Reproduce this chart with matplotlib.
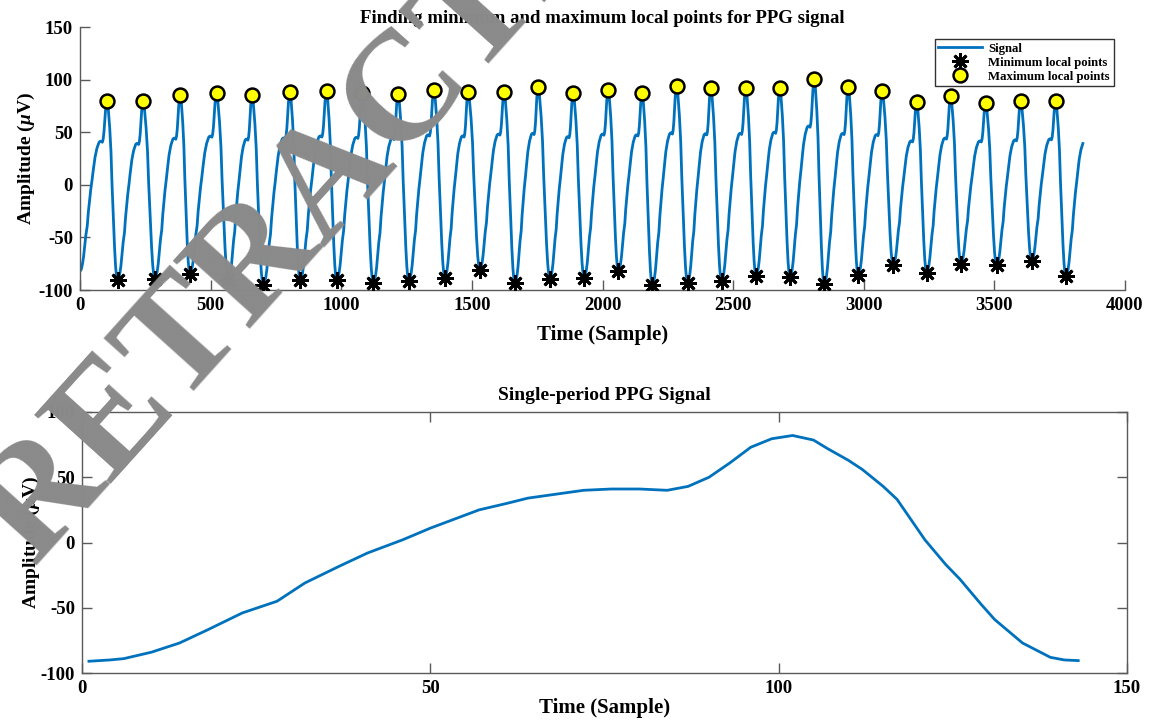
import numpy as np
import matplotlib
matplotlib.use("Agg")
import matplotlib.pyplot as plt

plt.rcParams['font.family'] = ['Liberation Serif', 'DejaVu Serif']
plt.rcParams['font.weight'] = 'bold'
plt.rcParams['axes.unicode_minus'] = False
plt.rcParams['mathtext.fontset'] = 'custom'
plt.rcParams['mathtext.rm'] = 'Liberation Serif:bold'
plt.rcParams['mathtext.it'] = 'Liberation Serif:italic:bold'

# ---------------- data ----------------
# single period PPG signal (bottom panel)
single_x = [1, 4, 6, 10, 14, 18, 23, 28, 32, 37, 41, 46, 50, 54, 57, 61, 64, 68,
            72, 76, 80, 84, 87, 90, 93, 96, 99, 102, 105, 107, 110, 112, 115, 117,
            121, 124, 126, 129, 131, 135, 139, 141, 143]
single_y = [-91, -90, -89, -84, -77, -67, -54, -45, -31, -18, -8, 2, 11, 19, 25, 30, 34, 37,
            40, 41, 41, 40, 43, 50, 61, 73, 79.5, 82, 78.5, 72, 63, 56, 43, 33,
            2, -17, -28, -47, -59, -77, -88, -90, -90.5]

# local maxima (yellow circles)
max_x = [104, 242, 384, 523, 659, 804, 944, 1081, 1218, 1355, 1486, 1624, 1754, 1888,
         2022, 2152, 2284, 2415, 2549, 2679, 2811, 2941, 3071, 3203, 3333, 3467, 3601, 3735]
max_y = [79.7, 79.7, 85.8, 86.8, 85.1, 88.0, 89.0, 87.3, 86.7, 90.5, 88.2, 88.2, 93.0, 87.6,
         90.5, 87.6, 94.3, 92.4, 92.4, 92.4, 100.3, 93.3, 89.2, 78.4, 84.1, 77.8, 79.7, 79.7]

# local minima (black asterisks)
min_x = [144, 287, 421, 568, 702, 843, 983, 1123, 1259, 1397, 1531, 1665, 1799, 1930,
         2061, 2191, 2326, 2456, 2588, 2718, 2849, 2979, 3113, 3241, 3372, 3509, 3643, 3774]
min_y = [-90.8, -89.2, -84.4, -90.8, -95.5, -90.8, -90.8, -93.3, -91.4, -88.2, -80.6, -93.3, -89.2, -88.2,
         -81.9, -95.5, -93.0, -91.4, -86.7, -87.6, -94.6, -86.0, -76.5, -83.5, -74.9, -76.5, -72.4, -87.0]

signal_start = (0, -82)     # first sample of the long record
signal_end_x = 3840         # last sample of the long record

# ---------------- build the long record from the read template ----------------
tx = np.array(single_x, float)
ty = np.array(single_y, float)
ipk = int(np.argmax(ty))
rise_x, rise_y = tx[:ipk + 1], ty[:ipk + 1]
fall_x, fall_y = tx[ipk:], ty[ipk:]

def seg(x0, y0, x1, y1, sx, sy):
    u = (sx - sx[0]) / (sx[-1] - sx[0])
    v = (sy - sy[0]) / (sy[-1] - sy[0])
    return x0 + u * (x1 - x0), y0 + v * (y1 - y0)

sig_x, sig_y = [], []
px, py = signal_start
for i in range(len(max_x)):
    a, b = seg(px, py, max_x[i], max_y[i], rise_x, rise_y)
    sig_x += list(a); sig_y += list(b)
    a, b = seg(max_x[i], max_y[i], min_x[i], min_y[i], fall_x, fall_y)
    sig_x += list(a[1:]); sig_y += list(b[1:])
    px, py = min_x[i], min_y[i]
# last partial rise
dur = max_x[-1] - min_x[-2]
a, b = seg(px, py, px + dur, max_y[-1], rise_x, rise_y)
keep = a <= signal_end_x
sig_x += list(a[keep][1:]); sig_y += list(b[keep][1:])

# ---------------- figure ----------------
W, H = 1150, 721
fig = plt.figure(figsize=(W / 100, H / 100), dpi=100)

blue = '#0072BD'
spine_c = '#5a5a5a'

ax1 = fig.add_axes([80 / W, 1 - 290 / H, 1045 / W, (290 - 27) / H])
ax1.plot(sig_x, sig_y, color=blue, lw=2.0, label='Signal', zorder=2)
ax1.plot(min_x, min_y, ls='none', marker=(8, 2, 0), ms=12, mew=2.0, color='black',
         label='Minimum local points', zorder=3)
ax1.plot(max_x, max_y, ls='none', marker='o', ms=10, mfc='#FFFF00', mec='black', mew=1.8,
         label='Maximum local points', zorder=4)
ax1.set_xlim(0, 4000)
ax1.set_ylim(-100, 150)
ax1.set_xticks(np.arange(0, 4001, 500))
ax1.set_yticks(np.arange(-100, 151, 50))
for s in ['top', 'right']:
    ax1.spines[s].set_visible(False)
for s in ['left', 'bottom']:
    ax1.spines[s].set_color(spine_c)
    ax1.spines[s].set_linewidth(1.0)
ax1.tick_params(direction='in', length=7, width=1.0, color=spine_c, labelsize=13.5, pad=5)
ax1.set_title('Finding minimum and maximum local points for PPG signal', fontsize=13.5,
              fontweight='bold', pad=2)
ax1.set_xlabel('Time (Sample)', fontsize=15, fontweight='bold', labelpad=8)
ax1.set_ylabel(r'Amplitude ($\mu$V)', fontsize=14, fontweight='bold', labelpad=1)
leg = ax1.legend(loc='upper right', bbox_to_anchor=(0.989, 0.955), fontsize=9.2,
                 frameon=True, fancybox=False, edgecolor='#333333', framealpha=1,
                 borderpad=0.3, labelspacing=0.15, handlelength=3.4, handletextpad=0.5,
                 borderaxespad=0)
leg.get_frame().set_linewidth(1.0)
for t in leg.get_texts():
    t.set_fontweight('bold')

ax2 = fig.add_axes([82 / W, 1 - 673 / H, 1045 / W, (673 - 412) / H])
ax2.plot(single_x, single_y, color=blue, lw=2.0)
ax2.set_xlim(0, 150)
ax2.set_ylim(-100, 100)
ax2.set_xticks([0, 50, 100, 150])
ax2.set_yticks([-100, -50, 0, 50, 100])
for s in ax2.spines.values():
    s.set_color(spine_c)
    s.set_linewidth(1.0)
ax2.tick_params(direction='in', length=7, width=1.0, color=spine_c, labelsize=13.5, pad=5,
                top=True, right=True)
ax2.set_title('Single-period PPG Signal', fontsize=14, fontweight='bold', pad=9)
ax2.set_xlabel('Time (Sample)', fontsize=15, fontweight='bold', labelpad=1)
ax2.set_ylabel(r'Amplitude ($\mu$V)', fontsize=14, fontweight='bold', labelpad=-1)

# watermark
fig.text(332 / W, 1 - 179 / H, 'RETRACTED', rotation=48.0, rotation_mode='anchor',
         ha='center', va='center', fontsize=112, fontweight='bold',
         family='Liberation Serif', color='#8a8a8a', zorder=20)

fig.savefig('out.png', dpi=100)
